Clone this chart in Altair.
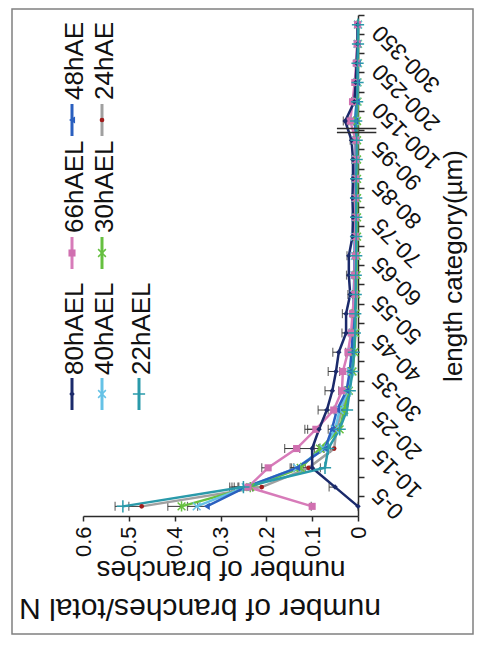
import altair as alt
import pandas as pd

categories = ["0-5", "5-10", "10-15", "15-20", "20-25", "25-30", "30-35", "35-40", "40-45", "45-50",
              "50-55", "55-60", "60-65", "65-70", "70-75", "75-80", "80-85", "85-90", "90-95", "95-100",
              "100-150", "150-200", "200-250", "250-300", "300-350", "350-400"]
shown_labels = ["0-5", "10-15", "20-25", "30-35", "40-45", "50-55", "60-65", "70-75", "80-85", "90-95",
                "100-150", "200-250", "300-350"]
value_ticks = [0, 0.1, 0.2, 0.3, 0.4, 0.5, 0.6]

v80 = [0, 0.05, 0.10, 0.10, 0.085, 0.068, 0.056, 0.048, 0.042, 0.026, 0.026, 0.017, 0.02, 0.02, 0.012, 0.011, 0.012, 0.011, 0.011, 0.014, 0.028, 0.008, 0.005, 0.003, 0.001, 0.001]
e80 = [0, 0.063, 0.115, 0.127, 0.11, 0.087, 0.072, 0.065, 0.055, 0.035, 0.034, 0.022, 0.025, 0.024, 0.014, 0.013, 0.014, 0.013, 0.013, 0.017, 0.032, 0.009, 0.006, 0.004, 0.002, 0.002]
v66 = [0.1, 0.24, 0.196, 0.134, 0.092, 0.053, 0.035, 0.033, 0.022, 0.015, 0.012, 0.008, 0.008, 0.006, 0.006, 0.006, 0.006, 0.005, 0.005, 0.005, 0.017, 0.012, 0.007, 0.004, 0.002, 0.001]
e66 = [0.102, 0.26, 0.21, 0.16, 0.116, 0.065, 0.042, 0.04, 0.027, 0.019, 0.015, 0.01, 0.01, 0.008, 0.008, 0.008, 0.008, 0.007, 0.007, 0.007, 0.02, 0.014, 0.008, 0.005, 0.002, 0.001]
v48 = [0.33, 0.245, 0.133, 0.072, 0.057, 0.046, 0.025, 0.018, 0.014, 0.012, 0.01, 0.009, 0.008, 0.007, 0.007, 0.006, 0.006, 0.006, 0.005, 0.005, 0.006, 0.003, 0.002, 0.001, 0.001, 0.0]
e48 = [0.35, 0.275, 0.148, 0.085, 0.065, 0.052, 0.03, 0.022, 0.017, 0.014, 0.012, 0.011, 0.01, 0.009, 0.008, 0.007, 0.007, 0.007, 0.006, 0.006, 0.008, 0.004, 0.003, 0.001, 0.001, 0.0]
v40 = [0.352, 0.245, 0.133, 0.075, 0.05, 0.04, 0.022, 0.016, 0.013, 0.011, 0.01, 0.009, 0.008, 0.007, 0.007, 0.006, 0.006, 0.006, 0.005, 0.005, 0.007, 0.003, 0.002, 0.001, 0.001, 0.0]
e40 = [0.372, 0.27, 0.145, 0.085, 0.058, 0.047, 0.027, 0.02, 0.016, 0.013, 0.012, 0.011, 0.01, 0.009, 0.008, 0.007, 0.007, 0.007, 0.006, 0.006, 0.009, 0.004, 0.003, 0.001, 0.001, 0.0]
v30 = [0.385, 0.235, 0.125, 0.083, 0.04, 0.03, 0.02, 0.012, 0.008, 0.006, 0.005, 0.004, 0.003, 0.003, 0.002, 0.002, 0.002, 0.002, 0.002, 0.002, 0.002, 0.001, 0.001, 0.0, 0.0, 0.0]
e30 = [0.415, 0.262, 0.14, 0.095, 0.048, 0.036, 0.025, 0.015, 0.01, 0.008, 0.006, 0.005, 0.004, 0.004, 0.003, 0.003, 0.003, 0.003, 0.003, 0.003, 0.003, 0.001, 0.001, 0.0, 0.0, 0.0]
v24 = [0.472, 0.21, 0.108, 0.052, 0.047, 0.035, 0.022, 0.012, 0.008, 0.006, 0.005, 0.004, 0.004, 0.003, 0.003, 0.003, 0.003, 0.002, 0.002, 0.002, 0.002, 0.001, 0.001, 0.0, 0.0, 0.0]
e24 = [0.5, 0.23, 0.12, 0.06, 0.053, 0.04, 0.026, 0.015, 0.01, 0.008, 0.006, 0.005, 0.005, 0.004, 0.004, 0.004, 0.004, 0.003, 0.003, 0.003, 0.003, 0.001, 0.001, 0.0, 0.0, 0.0]
v22 = [0.513, 0.25, 0.072, 0.065, 0.04, 0.024, 0.018, 0.012, 0.009, 0.007, 0.006, 0.005, 0.005, 0.004, 0.004, 0.004, 0.004, 0.004, 0.003, 0.003, 0.004, 0.002, 0.001, 0.001, 0.0, 0.0]
e22 = [0.53, 0.28, 0.082, 0.074, 0.046, 0.03, 0.022, 0.015, 0.011, 0.009, 0.008, 0.006, 0.006, 0.005, 0.005, 0.005, 0.005, 0.005, 0.004, 0.004, 0.005, 0.003, 0.002, 0.001, 0.0, 0.0]

# axis-break marker: spans these values across the category axis, between 95-100 and 100-150
break_span = [0.046, -0.04]

series_names = ["80hAEL", "66hAEL", "48hAE", "40hAEL", "30hAEL", "24hAE", "22hAEL"]

FONT = "Liberation Sans"
AX = "#2b2b2b"
W, H = 275, 501

label_list = "[" + ",".join("'" + s + "'" for s in shown_labels) + "]"

xscale = alt.Scale(domain=[0, 0.6], reverse=True, nice=False, zero=False)
yscale = alt.Scale(type="band", domain=categories[::-1], paddingInner=0, paddingOuter=0)

xaxis = alt.Axis(values=value_ticks, format=".1~f", orient="bottom", grid=False,
                 labelAngle=270, labelAlign="right", labelBaseline="middle",
                 labelFontSize=22, labelFont=FONT, labelColor="#111", labelPadding=5,
                 tickSize=5, tickColor=AX, tickWidth=1.5, domainColor=AX, domainWidth=1.5,
                 title="number of branches", titleAngle=180, titleBaseline="alphabetic",
                 titleFontSize=28, titleFont=FONT, titleFontWeight="normal", titleColor="#111",
                 titlePadding=4)
yaxis = alt.Axis(orient="right", bandPosition=0, grid=False,
                 labelExpr="indexof(" + label_list + ", datum.value) >= 0 ? datum.value : ''",
                 labelAngle=225, labelAlign="right", labelBaseline="middle", labelOverlap=False,
                 labelFontSize=23, labelFont=FONT, labelColor="#111", labelPadding=12,
                 labelOffset=-15,
                 tickSize=6, tickColor=AX, tickWidth=1.5, domainColor=AX, domainWidth=1.5,
                 title="length category(µm)", titleAngle=270, titleBaseline="top",
                 titleFontSize=26, titleFont=FONT, titleFontWeight="normal", titleColor="#111",
                 titlePadding=-4)

X = alt.X("v:Q", scale=xscale, axis=xaxis)
Y = alt.Y("cat:N", scale=yscale, axis=yaxis)

XPATH = "M-1,-1L1,1M-1,1L1,-1"
STAR = "M-1,-1L1,1M-1,1L1,-1M0,-1.3L0,1.3"
PLUS = "M-1,0L1,0M0,-1L0,1"

styles = {
    "80hAEL": dict(line="#1b2a6b", mark="#1b2a6b", shape="diamond", size=30, filled=True),
    "66hAEL": dict(line="#d77bb9", mark="#d070b0", shape="square", size=50, filled=True),
    "48hAE": dict(line="#2a5fbf", mark="#2a5fbf", shape="triangle-left", size=50, filled=True),
    "40hAEL": dict(line="#66c2e6", mark="#66c2e6", shape=XPATH, size=60, filled=False),
    "30hAEL": dict(line="#66c040", mark="#66c040", shape=STAR, size=60, filled=False),
    "24hAE": dict(line="#a0a0a0", mark="#a01c1c", shape="circle", size=22, filled=True),
    "22hAEL": dict(line="#2a9aaa", mark="#2a9aaa", shape=PLUS, size=150, filled=False),
}
values = {"80hAEL": (v80, e80), "66hAEL": (v66, e66), "48hAE": (v48, e48), "40hAEL": (v40, e40),
          "30hAEL": (v30, e30), "24hAE": (v24, e24), "22hAEL": (v22, e22)}

dummy = pd.DataFrame({"a": [0]})

layers = []
# outer frame
layers.append(alt.Chart(dummy).mark_rect(filled=False, stroke="#808080", strokeWidth=1.5).encode(
    x=alt.value(-71), x2=alt.value(390), y=alt.value(-6), y2=alt.value(619)))

draw_order = ["24hAE", "30hAEL", "40hAEL", "48hAE", "66hAEL", "80hAEL", "22hAEL"]
err_layers, line_layers, pt_layers = [], [], []
for name in draw_order:
    v, e = values[name]
    st = styles[name]
    df = pd.DataFrame({"cat": categories, "v": v, "e": e, "idx": list(range(len(categories)))})
    base = alt.Chart(df)
    err_layers.append(base.mark_rule(color="#333333", strokeWidth=1).encode(x=X, x2="e:Q", y=Y))
    err_layers.append(base.mark_tick(orient="vertical", size=9, thickness=1.2, color="#333333").encode(
        x=alt.X("e:Q", scale=xscale, axis=xaxis), y=Y))
    line_layers.append(base.mark_line(color=st["line"], strokeWidth=2.5).encode(
        x=X, y=Y, order=alt.Order("idx:Q")))
    pt_layers.append(base.mark_point(shape=st["shape"], size=st["size"], filled=st["filled"],
                                     color=st["mark"], strokeWidth=1.5, opacity=1).encode(x=X, y=Y))

layers += err_layers + line_layers + pt_layers

# axis break marks
brk = pd.DataFrame({"cat": ["100-150"], "v": [break_span[0]], "v2": [break_span[1]]})
for off in (-2, 2):
    layers.append(alt.Chart(brk).mark_rule(color=AX, strokeWidth=1.5, yOffset=off).encode(
        y=alt.Y("cat:N", scale=yscale, axis=yaxis, bandPosition=1),
        x=X, x2="v2:Q"))

# legend (3 rows x 3 columns, rotated)
leg_pos = {
    "80hAEL": (0, 0), "66hAEL": (0, 1), "48hAE": (0, 2),
    "40hAEL": (1, 0), "30hAEL": (1, 1), "24hAE": (1, 2),
    "22hAEL": (2, 0),
}
col_text_x = [0, 30, 67]
col_mark_x = [-11, 19, 56]
row_mark_y = [379, 238, 105]
row_text_y = [360, 218, 85]
for name, (c, r) in leg_pos.items():
    st = styles[name]
    mx, my = col_mark_x[c], row_mark_y[r]
    layers.append(alt.Chart(dummy).mark_rule(color=st["line"], strokeWidth=3).encode(
        x=alt.value(mx), y=alt.value(my - 16), y2=alt.value(my + 16)))
    layers.append(alt.Chart(dummy).mark_point(shape=st["shape"], size=st["size"], filled=st["filled"],
                                              color=st["mark"], strokeWidth=1.5, opacity=1).encode(
        x=alt.value(mx), y=alt.value(my)))
    layers.append(alt.Chart(dummy).mark_text(text=name, angle=270, align="left", baseline="alphabetic",
                                             fontSize=26, font=FONT, color="#111").encode(
        x=alt.value(col_text_x[c]), y=alt.value(row_text_y[r])))

# second (outer) title line
layers.append(alt.Chart(dummy).mark_text(text="number of branches/total N", angle=180, align="center",
                                         baseline="alphabetic", fontSize=30, font=FONT,
                                         color="#111").encode(x=alt.value(117), y=alt.value(584)))

chart = alt.layer(*layers).properties(
    width=W, height=H,
    autosize=alt.AutoSizeParams(type="none"),
    padding={"left": 75, "top": 7, "right": 116, "bottom": 123},
    background="white",
).configure_view(stroke=None)

chart.save("out.html", embed_options={"renderer": "svg", "actions": False})
